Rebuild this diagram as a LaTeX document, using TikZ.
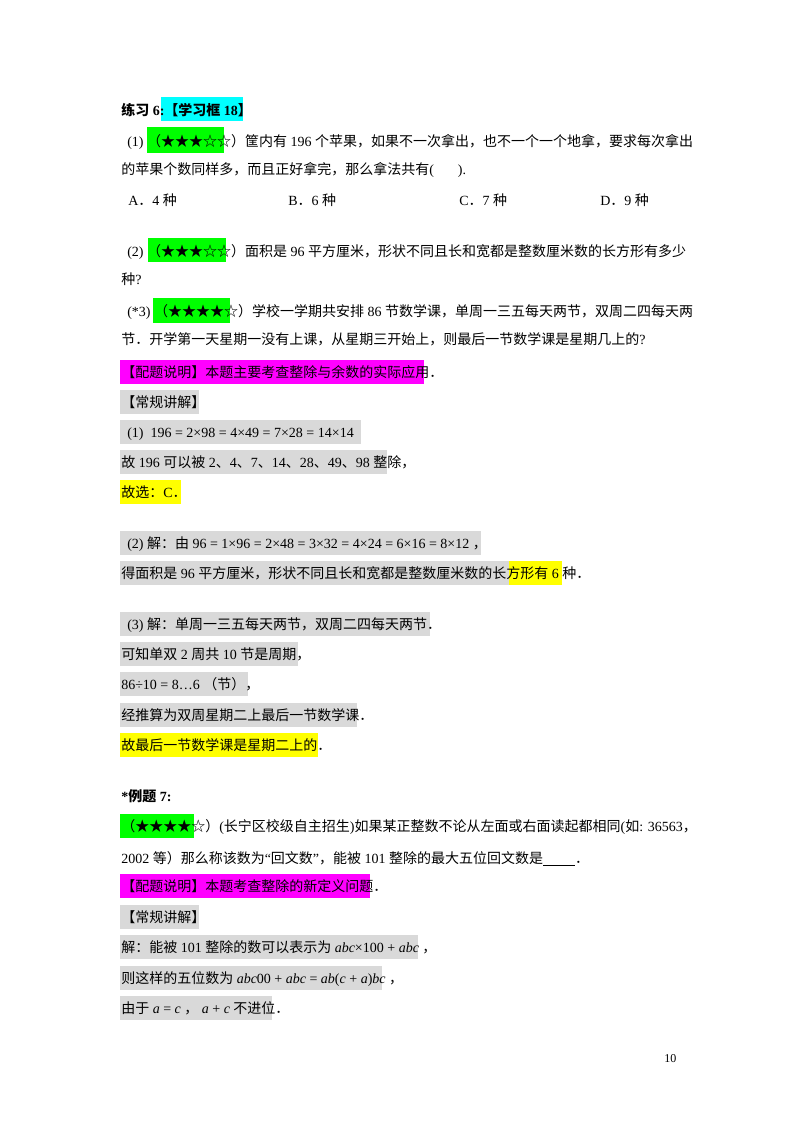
\documentclass[tikz,border=0pt]{standalone}
\usepackage{fontspec}
\setmainfont{Liberation Serif}
\newfontfamily\cjk{Noto Sans CJK SC}
\newfontfamily\lat{Liberation Serif}
\XeTeXinterchartokenstate=1
\newXeTeXintercharclass\cjkclass
\makeatletter
\def\setrange#1#2{\count@=#1\relax\loop\XeTeXcharclass\count@=\cjkclass\ifnum\count@<#2\advance\count@ by 1\repeat}
\makeatother
\setrange{"4E00}{"9FFF}
\setrange{"3000}{"303F}
\setrange{"FF00}{"FFEF}
\setrange{"2605}{"2606}
\XeTeXinterchartoks 0 \cjkclass = {\cjk}
\XeTeXinterchartoks 4095 \cjkclass = {\cjk}
\XeTeXinterchartoks \cjkclass 0 = {\lat}
\XeTeXinterchartoks \cjkclass 4095 = {\lat}
\definecolor{hcyan}{HTML}{00FFFF}
\definecolor{hgreen}{HTML}{00FF00}
\definecolor{hmag}{HTML}{FF00FF}
\definecolor{hyel}{HTML}{FFFF00}
\definecolor{hgray}{HTML}{D9D9D9}
\tikzset{t/.style={anchor=base west,inner sep=0pt,font=\fontsize{10.5}{12}\selectfont}}
\begin{document}
\begin{tikzpicture}[x=0.75pt,y=-0.75pt]
\useasboundingbox (0,0) rectangle (800,1132);
% highlight boxes
\fill[hcyan] (161,97) rectangle (243,121);
\fill[hgreen] (147,127) rectangle (224,153);
\fill[hgreen] (148,238) rectangle (226,262);
\fill[hgreen] (153,298) rectangle (230,323);
\fill[hmag] (120,360) rectangle (424,384);
\fill[hgray] (120,390) rectangle (199,414);
\fill[hgray] (120,420) rectangle (361,444);
\fill[hgray] (120,450) rectangle (387,474);
\fill[hyel] (120,480) rectangle (181,504);
\fill[hgray] (120,531) rectangle (481,555);
\fill[hgray] (120,561) rectangle (509,585);
\fill[hyel] (509,561) rectangle (562,585);
\fill[hgray] (120,612) rectangle (430,636);
\fill[hgray] (120,642) rectangle (298,666);
\fill[hgray] (120,672) rectangle (248,696);
\fill[hgray] (120,703) rectangle (357,727);
\fill[hyel] (120,733) rectangle (318,757);
\fill[hgreen] (120,814) rectangle (194,838);
\fill[hmag] (120,874) rectangle (370,898);
\fill[hgray] (120,905) rectangle (199,929);
\fill[hgray] (120,935) rectangle (418,959);
\fill[hgray] (120,966) rectangle (382,990);
\fill[hgray] (120,996) rectangle (272,1020);
% text
\node[t] (l1) at (121,115) {\bfseries 练习 6:【学习框 18】};
\node[t] (l2) at (127,146) {(1) （★★★☆☆）筐内有 196 个苹果，如果不一次拿出，也不一个一个地拿，要求每次拿出};
\node[t] (l3) at (121,174) {的苹果个数同样多，而且正好拿完，那么拿法共有(\hspace{18pt}).};
\node[t] (oA) at (128,205) {A．4 种};
\node[t] (oB) at (288,205) {B．6 种};
\node[t] (oC) at (459,205) {C．7 种};
\node[t] (oD) at (600,205) {D．9 种};
\node[t] (l4) at (127,256) {(2) （★★★☆☆）面积是 96 平方厘米，形状不同且长和宽都是整数厘米数的长方形有多少};
\node[t] (l5) at (121,284) {种?};
\node[t] (l6) at (127,316) {(*3) （★★★★☆）学校一学期共安排 86 节数学课，单周一三五每天两节，双周二四每天两};
\node[t] (l7) at (121,344) {节．开学第一天星期一没有上课，从星期三开始上，则最后一节数学课是星期几上的?};
\node[t] (l8) at (121,377) {【配题说明】本题主要考查整除与余数的实际应用．};
\node[t] (l9) at (121,407) {【常规讲解】};
\node[t] (l10) at (127,437) {(1)\ \ 196 = 2×98 = 4×49 = 7×28 = 14×14};
\node[t] (l11) at (121,467) {故 196 可以被 2、4、7、14、28、49、98 整除，};
\node[t] (l12) at (121,497) {故选：C．};
\node[t] (l13) at (127,548) {(2) 解：由 96 = 1×96 = 2×48 = 3×32 = 4×24 = 6×16 = 8×12 ，};
\node[t] (l14) at (121,578) {得面积是 96 平方厘米，形状不同且长和宽都是整数厘米数的长方形有 6 种．};
\node[t] (l15) at (127,629) {(3) 解：单周一三五每天两节，双周二四每天两节．};
\node[t] (l16) at (121,659) {可知单双 2 周共 10 节是周期，};
\node[t] (l17) at (121,689) {86÷10 = 8…6 （节），};
\node[t] (l18) at (121,720) {经推算为双周星期二上最后一节数学课．};
\node[t] (l19) at (121,750) {故最后一节数学课是星期二上的．};
\node[t] (l20) at (121,801) {\bfseries *例题 7:};
\node[t] (l21) at (121,831) {（★★★★☆）(长宁区校级自主招生)如果某正整数不论从左面或右面读起都相同(如: 36563，};
\node[t] (l22) at (121,863) {2002 等）那么称该数为“回文数”，能被 101 整除的最大五位回文数是\underline{\hspace{24pt}}．};
\node[t] (l23) at (121,891) {【配题说明】本题考查整除的新定义问题．};
\node[t] (l24) at (121,922) {【常规讲解】};
\node[t] (l25) at (121,952) {解：能被 101 整除的数可以表示为 \textit{abc}×100 + \textit{abc} ，};
\node[t] (l26) at (121,983) {则这样的五位数为 \textit{abc}00 + \textit{abc} = \textit{ab}(\textit{c} + \textit{a})\textit{bc} ，};
\node[t] (l27) at (121,1013) {由于 \textit{a} = \textit{c} ，\ \textit{a} + \textit{c} 不进位．};
\node[t] (pg) at (664,1062) {\fontsize{9}{10}\selectfont 10};
\end{tikzpicture}
\end{document}
